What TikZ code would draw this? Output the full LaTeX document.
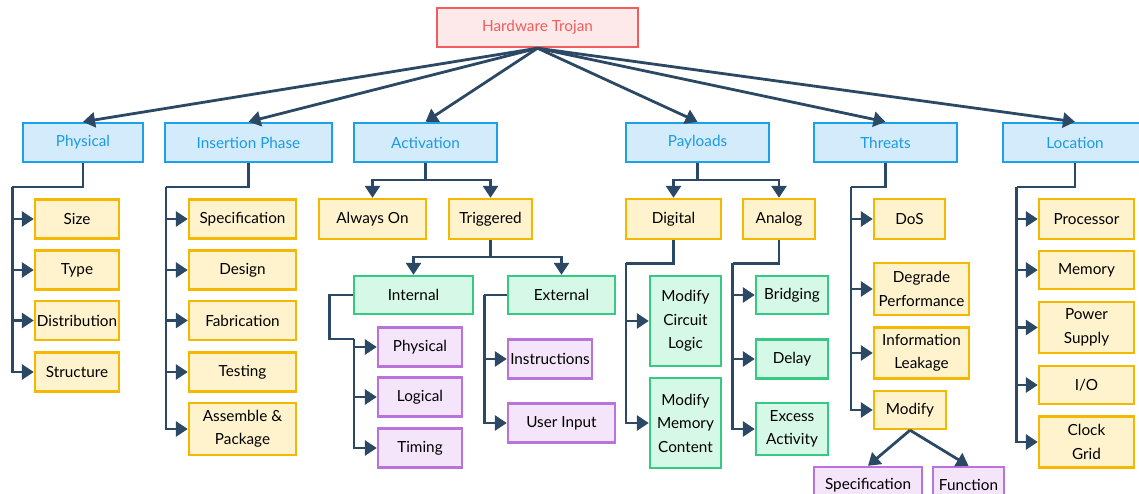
\documentclass[tikz,border=0pt]{standalone}
\usepackage{fontspec}
\setmainfont{Lato}
\usetikzlibrary{arrows.meta}

\definecolor{linkc}{HTML}{2B4865}
\definecolor{rootfill}{HTML}{FDE9E9}
\definecolor{rootdraw}{HTML}{F25C5C}
\definecolor{catfill}{HTML}{D3EBFA}
\definecolor{catdraw}{HTML}{1BA1EC}
\definecolor{cattext}{HTML}{1B9BE2}
\definecolor{yelfill}{HTML}{FFF3CD}
\definecolor{yeldraw}{HTML}{F5B800}
\definecolor{grnfill}{HTML}{D6F8E7}
\definecolor{grndraw}{HTML}{35C983}
\definecolor{purfill}{HTML}{F5E5FB}
\definecolor{purdraw}{HTML}{B873DC}

\tikzset{
  box/.style={rectangle, line width=2.4pt, inner sep=0pt, align=center,
    font=\fontsize{15.3}{23.5}\selectfont, text=black},
  rootbox/.style={box, fill=rootfill, draw=rootdraw, text=rootdraw},
  catbox/.style={box, fill=catfill, draw=catdraw, text=cattext},
  yelbox/.style={box, fill=yelfill, draw=yeldraw},
  grnbox/.style={box, fill=grnfill, draw=grndraw},
  purbox/.style={box, fill=purfill, draw=purdraw},
  link/.style={draw=linkc, line width=2.8pt},
  arrowlink/.style={link, -{Triangle[length=12pt,width=15pt]}},
  wh/.style 2 args={minimum width=#1pt, minimum height=#2pt}
}

\begin{document}
\begin{tikzpicture}[x=1pt,y=-1pt]
\useasboundingbox (0,0) rectangle (1139,493);

% root
\node[rootbox, wh={201}{39}] (root) at (537.5,27.5) {Hardware Trojan};

% categories
\node[catbox, wh={120}{39}] (phys) at (83,142.5) {Physical};
\node[catbox, wh={167}{39}] (ins)  at (248.5,142.5) {Insertion Phase};
\node[catbox, wh={143}{39}] (act)  at (425.5,142.5) {Activation};
\node[catbox, wh={143}{39}] (pay)  at (697.5,142.5) {Payloads};
\node[catbox, wh={143}{39}] (thr)  at (885.5,142.5) {Threats};
\node[catbox, wh={144}{39}] (loc)  at (1075,142.5) {Location};

\foreach \c in {phys,ins,act,pay,thr,loc}
  \draw[arrowlink] (root.south) -- (\c.north);

% physical
\node[yelbox, wh={84}{39}] (size) at (77,219) {Size};
\node[yelbox, wh={84}{39}] (type) at (77,270) {Type};
\node[yelbox, wh={84}{39}] (dist) at (77,320.5) {Distribution};
\node[yelbox, wh={84}{39}] (struct) at (77,372) {Structure};
\coordinate (physk) at (12.3,187);
\draw[link] (phys.south) |- (physk);
\foreach \c in {size,type,dist,struct}
  \draw[arrowlink] (physk) |- (\c.west);

% insertion phase
\node[yelbox, wh={107}{39}] (spec) at (242.5,219) {Specification};
\node[yelbox, wh={107}{39}] (design) at (242.5,270) {Design};
\node[yelbox, wh={107}{39}] (fab) at (242.5,320.5) {Fabrication};
\node[yelbox, wh={107}{39}] (test) at (242.5,372) {Testing};
\node[yelbox, wh={107}{52}] (asm) at (242.5,429) {Assemble \&\\Package};
\coordinate (insk) at (166,187);
\draw[link] (ins.south) |- (insk);
\foreach \c in {spec,design,fab,test,asm}
  \draw[arrowlink] (insk) |- (\c.west);

% activation
\node[yelbox, wh={107}{40}] (always) at (372.5,219) {Always On};
\node[yelbox, wh={83}{40}] (trig) at (490.5,219) {Triggered};
\coordinate (actk) at (425.5,180);
\draw[link] (act.south) -- (actk);
\draw[arrowlink] (actk) -| (always.north);
\draw[arrowlink] (actk) -| (trig.north);

\node[grnbox, wh={119}{38}] (int) at (413.5,295) {Internal};
\node[grnbox, wh={107}{38}] (ext) at (561.5,295) {External};
\coordinate (trigk) at (490.5,257);
\draw[link] (trig.south) -- (trigk);
\draw[arrowlink] (trigk) -| (int.north);
\draw[arrowlink] (trigk) -| (ext.north);

\node[purbox, wh={84}{39}] (iphys) at (420,347) {Physical};
\node[purbox, wh={84}{39}] (ilog) at (420,397) {Logical};
\node[purbox, wh={84}{39}] (itim) at (420,448) {Timing};
\coordinate (intk) at (354,339);
\draw[link] (int.west) -- ++(-23.5,0) |- (intk);
\foreach \c in {iphys,ilog,itim}
  \draw[arrowlink] (intk) |- (\c.west);

\node[purbox, wh={84}{39}] (instr) at (550,359) {Instructions};
\node[purbox, wh={107}{39}] (uin) at (561.5,423) {User Input};
\coordinate (extk) at (484.3,295);
\draw[link] (ext.west) -- (extk);
\draw[arrowlink] (extk) |- (instr.west);
\draw[arrowlink] (extk) |- (uin.west);

% payloads
\node[yelbox, wh={95}{40}] (dig) at (673.5,219) {Digital};
\node[yelbox, wh={72}{40}] (ana) at (779,219) {Analog};
\coordinate (payk) at (697.5,180);
\draw[link] (pay.south) -- (payk);
\draw[arrowlink] (payk) -| (dig.north);
\draw[arrowlink] (payk) -| (ana.north);

\node[grnbox, wh={71}{90}] (mcl) at (685.5,321) {Modify\\Circuit\\Logic};
\node[grnbox, wh={71}{90}] (mmc) at (685.5,423) {Modify\\Memory\\Content};
\coordinate (digk) at (626,263.3);
\draw[link] (dig.south) |- (digk);
\draw[arrowlink] (digk) |- (mcl.west);
\draw[arrowlink] (digk) |- (mmc.west);

\node[grnbox, wh={72}{38}] (bridge) at (792,295) {Bridging};
\node[grnbox, wh={72}{39}] (delay) at (792,359) {Delay};
\node[grnbox, wh={72}{52}] (excess) at (792,429) {Excess\\Activity};
\coordinate (anak) at (732.7,263.3);
\draw[link] (ana.south) |- (anak);
\foreach \c in {bridge,delay,excess}
  \draw[arrowlink] (anak) |- (\c.west);

% threats
\node[yelbox, wh={71}{40}] (dos) at (909.5,219) {DoS};
\node[yelbox, wh={95}{52}] (degr) at (921.5,289) {Degrade\\Performance};
\node[yelbox, wh={95}{51}] (leak) at (921.5,353) {Information\\Leakage};
\node[yelbox, wh={72}{38}] (modify) at (910,410) {Modify};
\coordinate (thrk) at (851,187);
\draw[link] (thr.south) |- (thrk);
\foreach \c in {dos,degr,leak,modify}
  \draw[arrowlink] (thrk) |- (\c.west);

\node[purbox, wh={108}{36}] (tspec) at (868,485) {Specification};
\node[purbox, wh={71}{36}] (tfunc) at (968.5,485) {Function};
\draw[arrowlink] (modify.south) -- (tspec.north);
\draw[arrowlink] (modify.south) -- (tfunc.north);

% location
\node[yelbox, wh={95}{40}] (proc) at (1086.5,219) {Processor};
\node[yelbox, wh={95}{38}] (mem) at (1086.5,270) {Memory};
\node[yelbox, wh={95}{51}] (power) at (1086.5,327.5) {Power\\Supply};
\node[yelbox, wh={95}{38}] (io) at (1086.5,385) {I/O};
\node[yelbox, wh={95}{51}] (clock) at (1086.5,442) {Clock\\Grid};
\coordinate (lock) at (1016.7,187);
\draw[link] (loc.south) |- (lock);
\foreach \c in {proc,mem,power,io,clock}
  \draw[arrowlink] (lock) |- (\c.west);

\end{tikzpicture}
\end{document}
